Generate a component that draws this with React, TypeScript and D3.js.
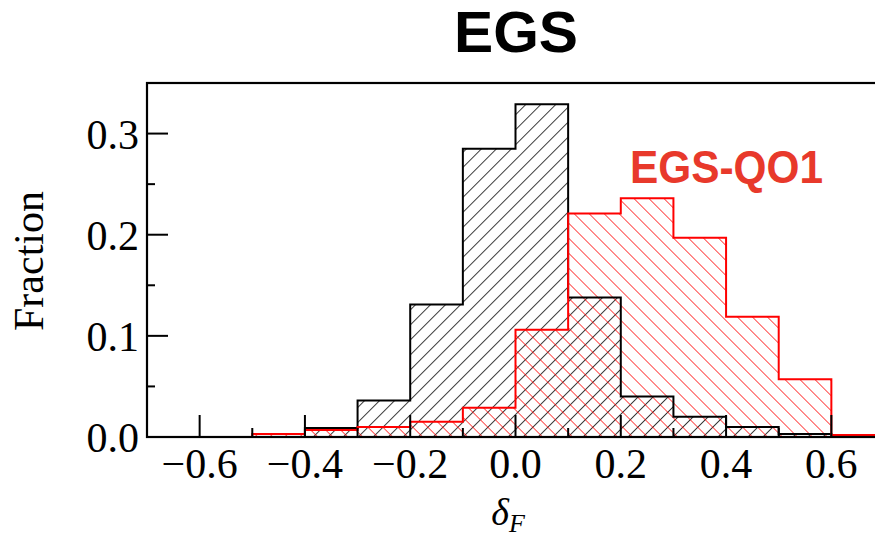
import React from 'react';
import * as d3 from 'd3';

// histogram bins are 0.1 wide
const binWidth = 0.1;
const egsStart = -0.4;
const egsValues = [0.009, 0.036, 0.131, 0.285, 0.329, 0.138, 0.04, 0.02, 0.01, 0.003];
const qo1Start = -0.5;
const qo1Values = [0.003, 0.007, 0.01, 0.015, 0.029, 0.106, 0.221, 0.236, 0.197, 0.119, 0.057, 0.002];

const xMajorTicks = [-0.6, -0.4, -0.2, 0.0, 0.2, 0.4, 0.6];
const xMinorTicks = [-0.5, -0.3, -0.1, 0.1, 0.3, 0.5];
const yMajorTicks = [0.0, 0.1, 0.2, 0.3];
const yMinorTicks = [0.05, 0.15, 0.25];

const W = 875;
const H = 544;
const margin = { top: 83, left: 147, bottom: 107 };
const plotRight = 884;

const x = d3.scaleLinear().domain([-0.7, 0.7]).range([margin.left, plotRight]);
const y = d3.scaleLinear().domain([0, 0.35]).range([H - margin.bottom, margin.top]);

const stepPath = (start: number, values: number[]) => {
  const pts: [number, number][] = [[start, 0]];
  values.forEach((v, i) => {
    pts.push([start + i * binWidth, v]);
    pts.push([start + (i + 1) * binWidth, v]);
  });
  pts.push([start + values.length * binWidth, 0]);
  return d3.line<[number, number]>().x(d => x(d[0])).y(d => y(d[1]))(pts) ?? '';
};

const fmtX = (d: number) => (d < 0 ? '\u2212' : '') + Math.abs(d).toFixed(1);

export default function App() {
  const egsPath = stepPath(egsStart, egsValues);
  const qo1Path = stepPath(qo1Start, qo1Values);
  const y0 = y(0);
  const serif = '"Liberation Serif", "Times New Roman", serif';
  const sans = '"Liberation Sans", Arial, Helvetica, sans-serif';

  return (
    <svg width={W} height={H} style={{ position: 'absolute', left: 0, top: 0, background: '#fff' }}>
      <defs>
        <pattern id="hatchBlack" patternUnits="userSpaceOnUse" width={10.6} height={10.6} patternTransform="rotate(45)">
          <line x1={0} y1={0} x2={0} y2={10.6} stroke="#000" strokeWidth={1.5} />
        </pattern>
        <pattern id="hatchRed" patternUnits="userSpaceOnUse" width={10.6} height={10.6} patternTransform="rotate(-45)">
          <line x1={0} y1={0} x2={0} y2={10.6} stroke="#ff0000" strokeWidth={1.4} />
        </pattern>
      </defs>

      {/* title */}
      <text x={516} y={52} textAnchor="middle" fontFamily={sans} fontWeight="bold" fontSize={58}
        textLength={124} lengthAdjust="spacingAndGlyphs">EGS</text>

      {/* fills */}
      <path d={egsPath + 'Z'} fill="url(#hatchBlack)" stroke="none" />
      <path d={qo1Path + 'Z'} fill="url(#hatchRed)" stroke="none" />
      {/* outlines */}
      <path d={egsPath} fill="none" stroke="#000" strokeWidth={2} />
      <path d={qo1Path} fill="none" stroke="#ff0000" strokeWidth={2} />

      {/* frame */}
      <rect x={margin.left} y={margin.top} width={plotRight - margin.left} height={y0 - margin.top}
        fill="none" stroke="#000" strokeWidth={2.2} />

      {/* x ticks */}
      {xMajorTicks.map(t => (
        <g key={'xM' + t}>
          <line x1={x(t)} x2={x(t)} y1={y0} y2={y0 - 22} stroke="#000" strokeWidth={2} />
          <text x={x(t)} y={y0 + 41} textAnchor="middle" fontFamily={serif} fontSize={42}>{fmtX(t)}</text>
        </g>
      ))}
      {xMinorTicks.map(t => (
        <line key={'xm' + t} x1={x(t)} x2={x(t)} y1={y0} y2={y0 - 9} stroke="#000" strokeWidth={2} />
      ))}

      {/* y ticks */}
      {yMajorTicks.map(t => (
        <g key={'yM' + t}>
          <line x1={margin.left} x2={margin.left + 21} y1={y(t)} y2={y(t)} stroke="#000" strokeWidth={2} />
          <text x={margin.left - 8} y={y(t) + 15} textAnchor="end" fontFamily={serif} fontSize={42}>{t.toFixed(1)}</text>
        </g>
      ))}
      {yMinorTicks.map(t => (
        <line key={'ym' + t} x1={margin.left} x2={margin.left + 8} y1={y(t)} y2={y(t)} stroke="#000" strokeWidth={2} />
      ))}

      {/* axis labels */}
      <text transform={`translate(43, 261) rotate(-90)`} textAnchor="middle" fontFamily={serif} fontSize={42}>Fraction</text>
      <text x={508} y={525} textAnchor="middle" fontFamily={serif} fontSize={38}>
        <tspan fontStyle="italic">δ</tspan>
        <tspan fontStyle="italic" fontSize={26} dy={7}>F</tspan>
      </text>

      {/* series label */}
      <text x={630} y={183} fontFamily={sans} fontWeight="bold" fontSize={46} fill="#e8392b"
        textLength={193} lengthAdjust="spacingAndGlyphs">EGS-QO1</text>
    </svg>
  );
}
